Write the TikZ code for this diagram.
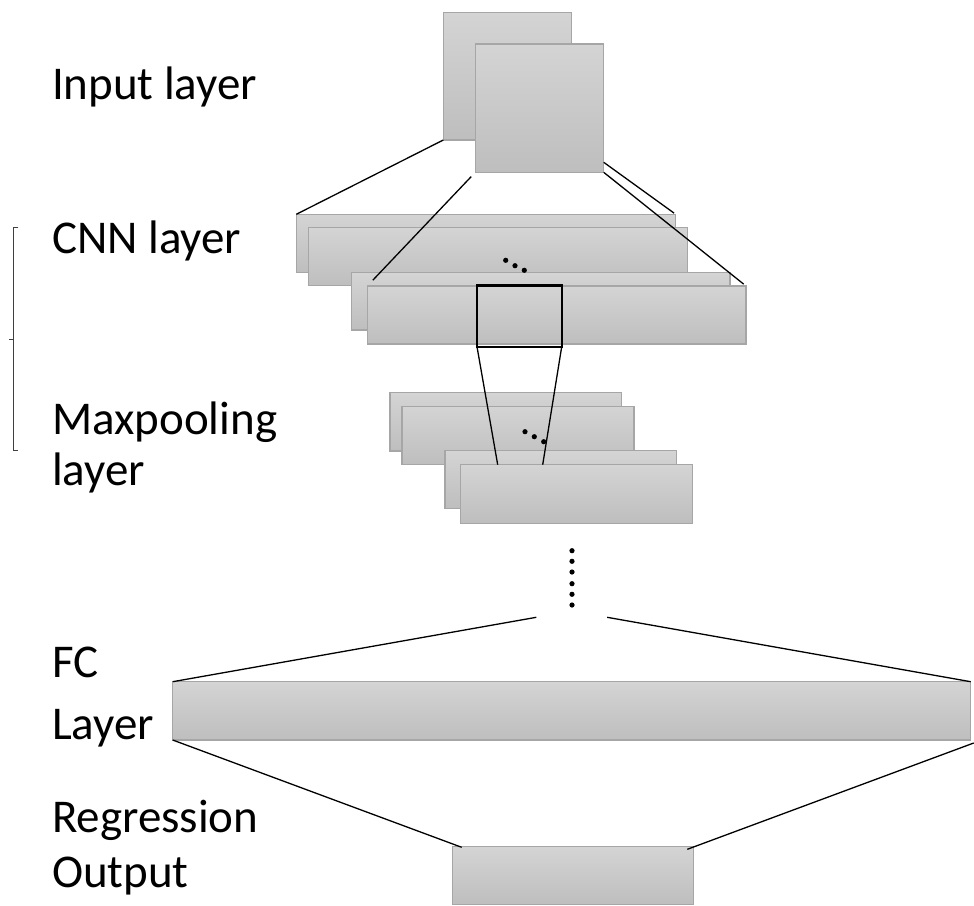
\documentclass[tikz,border=0pt]{standalone}
\usepackage{fontspec}
\setmainfont{Carlito}
\definecolor{boxtop}{HTML}{D4D4D4}
\definecolor{boxbot}{HTML}{BEBEBE}
\definecolor{boxline}{HTML}{A6A6A6}
\begin{document}
\begin{tikzpicture}[x=1pt,y=-1pt,
  layerbox/.style={rectangle, draw=boxline, line width=1.2pt, top color=boxtop, bottom color=boxbot, inner sep=0pt, outer sep=0pt, anchor=north west},
  kernel/.style={rectangle, draw=black, line width=2.4pt, inner sep=0pt, outer sep=0pt, anchor=north west},
  conn/.style={draw=black, line width=1.3pt},
  lbl/.style={inner sep=0pt, outer sep=0pt, anchor=base west, font=\fontsize{47}{56}\selectfont},
  dotc/.style={fill=black}
]
\useasboundingbox (0,0) rectangle (974,905);

% labels
\node[lbl] (tin) at (52,99.5) {Input layer};
\node[lbl] (tcnn) at (52,253) {CNN layer};
\node[lbl] (tmax1) at (52,434) {Maxpooling};
\node[lbl] (tmax2) at (52,485) {layer};
\node[lbl] (tfc1) at (52,677) {FC};
\node[lbl] (tfc2) at (52,739) {Layer};
\node[lbl] (treg1) at (52,832) {Regression};
\node[lbl] (treg2) at (52,887) {Output};

% bracket
\draw[draw=black!75, line width=1pt] (18.3,227.3) -- (13.7,227.3) -- (13.7,450.3) -- (18.3,450.3);
\draw[draw=black!75, line width=1pt] (9,339) -- (13.7,339);

% input layer
\node[layerbox, minimum width=128.4pt, minimum height=127.7pt] (in1) at (443.3,12.3) {};
\node[layerbox, minimum width=128.4pt, minimum height=128.3pt] (in2) at (475.3,44) {};

% CNN layer
\node[layerbox, minimum width=379.4pt, minimum height=58pt] (c1) at (296.3,214.3) {};
\node[layerbox, minimum width=379pt, minimum height=58pt] (c2) at (308.7,227.7) {};
\node[layerbox, minimum width=378.3pt, minimum height=57.3pt] (c3) at (351.7,272.7) {};
\node[layerbox, minimum width=378.7pt, minimum height=58pt] (c4) at (367.3,286) {};
\node[kernel, minimum width=84.7pt, minimum height=61.4pt] (k) at (477,285.3) {};

% Maxpooling layer
\node[layerbox, minimum width=231.7pt, minimum height=58.3pt] (m1) at (390,392.7) {};
\node[layerbox, minimum width=232pt, minimum height=58pt] (m2) at (402,406.3) {};
\node[layerbox, minimum width=231.7pt, minimum height=57.6pt] (m3) at (445,450.7) {};
\node[layerbox, minimum width=232pt, minimum height=58.6pt] (m4) at (460.7,464.7) {};

% FC layer
\node[layerbox, minimum width=798pt, minimum height=58.3pt] (fc) at (172.7,681.7) {};

% output
\node[layerbox, minimum width=240.6pt, minimum height=57.6pt] (out) at (452.7,846.7) {};

% dots
\fill[dotc] (505.7,260.3) circle (2.6pt);
\fill[dotc] (515,265.7) circle (2.6pt);
\fill[dotc] (524.3,270.3) circle (2.6pt);
\fill[dotc] (525,431.7) circle (2.6pt);
\fill[dotc] (534.3,436.7) circle (2.6pt);
\fill[dotc] (543.7,441.7) circle (2.6pt);
\foreach \yy in {550.7,561.3,572,583.7,594.3,605}
  \fill[dotc] (572,\yy) circle (2.6pt);

% connectors
\draw[conn] (in1.south west) -- (c1.north west);
\draw[conn, shorten <=6pt, shorten >=8pt] (in2.south west) -- (c4.north west);
\draw[conn, shorten >=2pt] ([yshift=10pt]in2.south east) -- (c1.north east);
\draw[conn, shorten >=3pt] (in2.south east) -- (c4.north east);
\draw[conn] (k.south west) -- ([xshift=37pt]m4.north west);
\draw[conn] (k.south east) -- ([xshift=82pt]m4.north west);

\coordinate (fcl) at (536.3,617.3);
\coordinate (fcr) at (607.2,617.3);
\draw[conn] (fc.north west) -- (fcl);
\draw[conn] (fcr) -- (fc.north east);
\draw[conn] (fc.south west) -- ([xshift=9pt,yshift=-0.6pt]out.north west);
\draw[conn] ([xshift=3pt,yshift=-3pt]fc.south east) -- ([xshift=-6pt,yshift=-2.6pt]out.north east);
\end{tikzpicture}
\end{document}
